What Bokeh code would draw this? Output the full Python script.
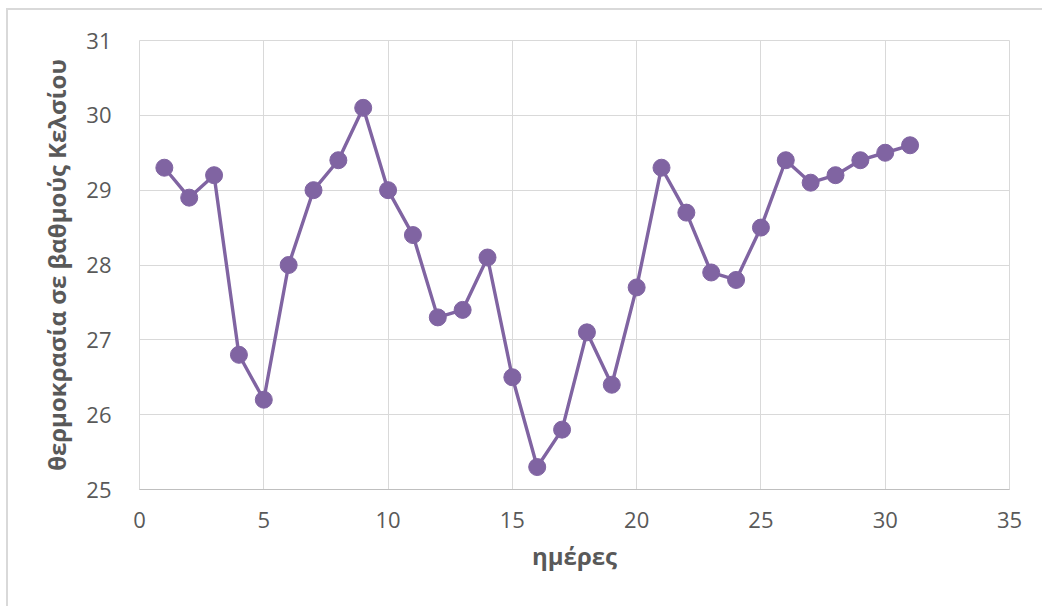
from bokeh.plotting import figure
from bokeh.models import FixedTicker, Range1d, ColumnDataSource
from bokeh.embed import file_html
from bokeh.resources import INLINE

days = list(range(1, 32))
temps = [29.3, 28.9, 29.2, 26.8, 26.2, 28.0, 29.0, 29.4, 30.1, 29.0,
         28.4, 27.3, 27.4, 28.1, 26.5, 25.3, 25.8, 27.1, 26.4, 27.7,
         29.3, 28.7, 27.9, 27.8, 28.5, 29.4, 29.1, 29.2, 29.4, 29.5, 29.6]
x_ticks = [0, 5, 10, 15, 20, 25, 30, 35]
y_ticks = [25, 26, 27, 28, 29, 30, 31]
x_label = "ημέρες"
y_label = "θερμοκρασία σε βαθμούς Κελσίου"

FONT = "Open Sans"
COLOR = "#8064A2"
TXT = "#595959"

src = ColumnDataSource(dict(x=days, y=temps))

p = figure(width=1036, height=598, output_backend="svg", toolbar_location=None,
           x_range=Range1d(0, 35), y_range=Range1d(25, 31),
           min_border_left=131, min_border_right=35, min_border_top=30,
           min_border_bottom=119)
p.margin = (8, 0, 0, 6)
p.styles = {"border-left": "2px solid #d9d9d9", "border-top": "2px solid #d9d9d9"}
p.outline_line_color = "#d9d9d9"
p.background_fill_color = "white"
p.border_fill_color = "white"

p.line("x", "y", source=src, line_color=COLOR, line_width=3.4)
p.scatter("x", "y", source=src, size=17, fill_color=COLOR, line_color=COLOR)

p.xaxis.ticker = FixedTicker(ticks=x_ticks)
p.yaxis.ticker = FixedTicker(ticks=y_ticks)
p.xgrid.ticker = FixedTicker(ticks=x_ticks)
p.ygrid.ticker = FixedTicker(ticks=y_ticks)
p.grid.grid_line_color = "#d9d9d9"
p.grid.grid_line_width = 1

for ax in (p.xaxis, p.yaxis):
    ax.major_tick_line_color = None
    ax.minor_tick_line_color = None
    ax.major_label_text_font = FONT
    ax.major_label_text_font_size = "22px"
    ax.major_label_text_color = TXT
    ax.axis_label_text_font = FONT
    ax.axis_label_text_font_size = "24px"
    ax.axis_label_text_font_style = "bold"
    ax.axis_label_text_color = TXT
p.xaxis.axis_line_color = "#bfbfbf"
p.yaxis.axis_line_color = None
p.xaxis.axis_label = x_label
p.yaxis.axis_label = y_label
p.xaxis.major_label_standoff = 16
p.yaxis.major_label_standoff = 22
p.xaxis.axis_label_standoff = 8
p.yaxis.axis_label_standoff = 10

open("out.html", "w").write(file_html(p, INLINE))
